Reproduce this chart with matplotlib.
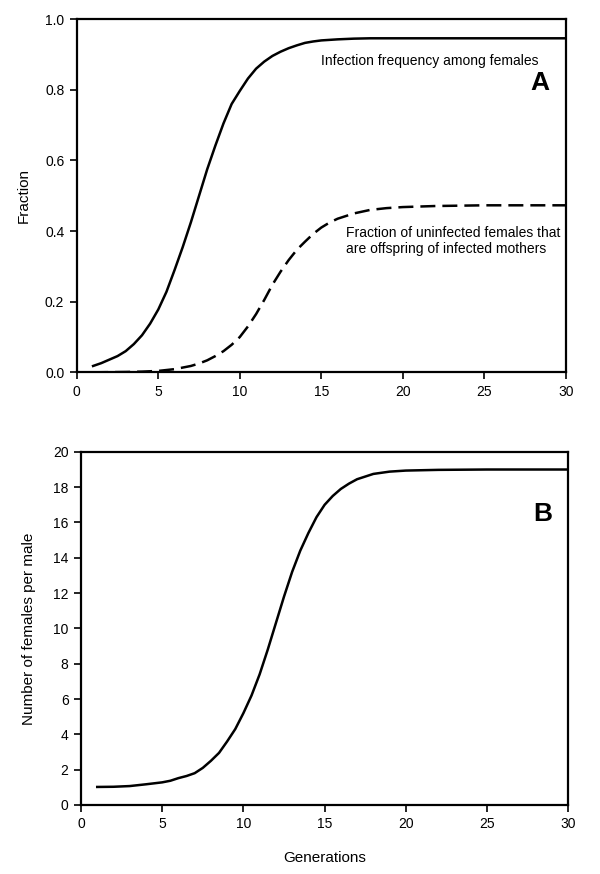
import matplotlib
matplotlib.use("Agg")
import matplotlib.pyplot as plt

plt.rcParams['font.family'] = ['Liberation Sans', 'DejaVu Sans']

# Panel A data
gen_a = [1, 1.5, 2, 2.5, 3, 3.5, 4, 4.5, 5, 5.5, 6, 6.5, 7, 7.5, 8, 8.5, 9, 9.5, 10,
         10.5, 11, 11.5, 12, 12.5, 13, 13.5, 14, 14.5, 15, 16, 17, 18, 19, 20, 22, 25, 30]
infected = [0.018, 0.026, 0.036, 0.046, 0.060, 0.080, 0.105, 0.138, 0.178, 0.228, 0.290,
            0.355, 0.425, 0.500, 0.575, 0.642, 0.705, 0.760, 0.797, 0.832, 0.860, 0.880,
            0.896, 0.908, 0.918, 0.926, 0.933, 0.937, 0.940, 0.943, 0.945, 0.946, 0.946,
            0.946, 0.946, 0.946, 0.946]
gen_d = [1, 2, 3, 4, 5, 6, 7, 7.5, 8, 8.5, 9, 9.5, 10, 10.5, 11, 11.5, 12, 12.5, 13,
         13.5, 14, 14.5, 15, 15.5, 16, 17, 18, 19, 20, 22, 25, 30]
uninf_off = [0.000, 0.0005, 0.001, 0.002, 0.004, 0.009, 0.018, 0.025, 0.034, 0.046,
             0.060, 0.078, 0.100, 0.130, 0.165, 0.205, 0.248, 0.285, 0.318, 0.347,
             0.370, 0.392, 0.410, 0.424, 0.435, 0.450, 0.460, 0.465, 0.468, 0.471,
             0.473, 0.473]

# Panel B data
gen_b = [1, 2, 3, 4, 5, 5.5, 6, 6.5, 7, 7.5, 8, 8.5, 9, 9.5, 10, 10.5, 11, 11.5, 12,
         12.5, 13, 13.5, 14, 14.5, 15, 15.5, 16, 16.5, 17, 18, 19, 20, 22, 25, 30]
females_per_male = [1.02, 1.03, 1.07, 1.17, 1.28, 1.37, 1.52, 1.64, 1.80, 2.10, 2.50,
                    2.95, 3.60, 4.30, 5.20, 6.20, 7.40, 8.80, 10.3, 11.8, 13.2, 14.4,
                    15.4, 16.3, 17.0, 17.5, 17.9, 18.2, 18.45, 18.75, 18.88, 18.94,
                    18.98, 19.0, 19.0]

x_ticks = [0, 5, 10, 15, 20, 25, 30]
ya_ticks = [0.0, 0.2, 0.4, 0.6, 0.8, 1.0]
yb_ticks = [0, 2, 4, 6, 8, 10, 12, 14, 16, 18, 20]

fig = plt.figure(figsize=(6, 8.74), dpi=100)
axA = fig.add_axes([0.128, 0.574, 0.815, 0.404])
axB = fig.add_axes([0.135, 0.079, 0.812, 0.404])

for ax in (axA, axB):
    for s in ax.spines.values():
        s.set_linewidth(1.6)
        s.set_color('black')
    ax.tick_params(direction='out', length=5, width=1.2, labelsize=10,
                   top=False, right=False, pad=4)
    ax.set_xlim(0, 30)
    ax.set_xticks(x_ticks)

axA.plot(gen_a, infected, color='black', lw=1.8)
axA.plot(gen_d, uninf_off, color='black', lw=1.8, dashes=(6, 2.8))
axA.set_ylim(0, 1.0)
axA.set_yticks(ya_ticks)
axA.set_yticklabels([f"{v:.1f}" for v in ya_ticks])
axA.set_ylabel("Fraction", fontsize=11, labelpad=10)
axA.text(15.0, 0.882, "Infection frequency among females", fontsize=10, va='center', ha='left')
axA.text(16.5, 0.395, "Fraction of uninfected females that", fontsize=10, va='center', ha='left')
axA.text(16.5, 0.348, "are offspring of infected mothers", fontsize=10, va='center', ha='left')
axA.text(29.0, 0.82, "A", fontsize=19, fontweight='bold', va='center', ha='right')

axB.plot(gen_b, females_per_male, color='black', lw=1.8)
axB.set_ylim(0, 20)
axB.set_yticks(yb_ticks)
axB.set_ylabel("Number of females per male", fontsize=11, labelpad=12)
axB.set_xlabel("Generations", fontsize=11, labelpad=14)
axB.text(29.0, 16.5, "B", fontsize=19, fontweight='bold', va='center', ha='right')

fig.savefig("out.png", dpi=100)
